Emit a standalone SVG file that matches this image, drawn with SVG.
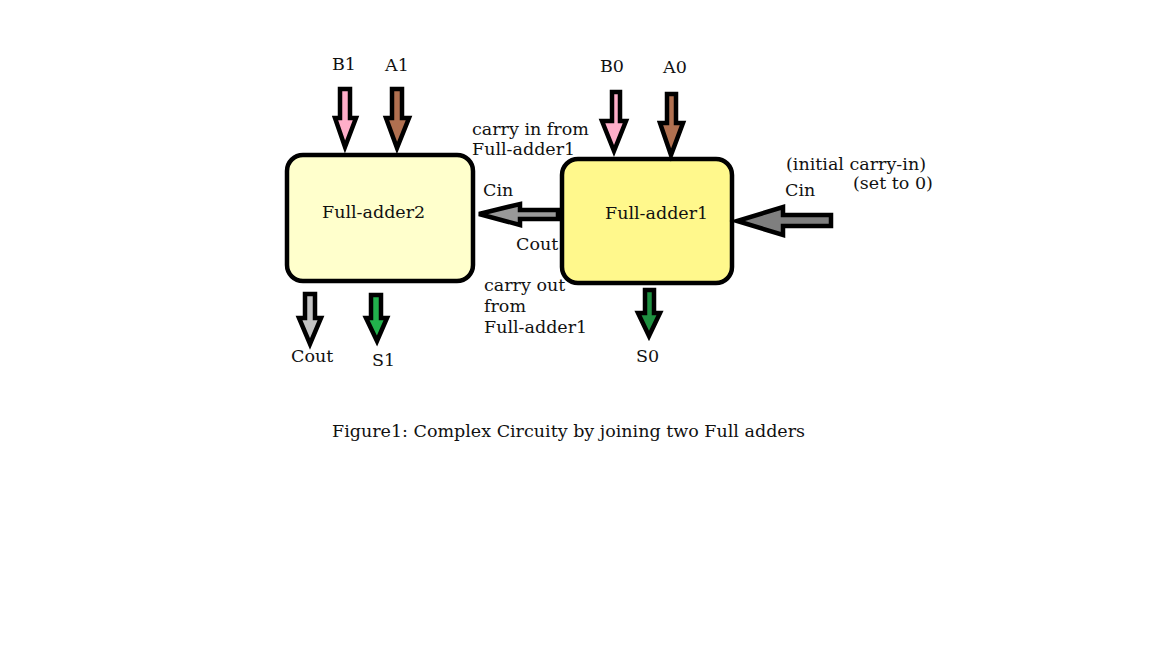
<svg xmlns="http://www.w3.org/2000/svg" width="1152" height="648" viewBox="0 0 1152 648">
<style>
text{font-family:"DejaVu Serif","Liberation Serif",serif;font-size:17.5px;fill:#111}
.box{stroke:#000;stroke-width:4.5}
.arr{stroke:#000;stroke-width:4.5;stroke-linejoin:miter}
</style>
<rect width="1152" height="648" fill="#fff"/>
<g id="full-adder2">
<rect class="box" x="287" y="155" width="186" height="126" rx="16" fill="#ffffcc"/>
<text x="322" y="218">Full-adder2</text>
</g>
<g id="full-adder1">
<rect class="box" x="562" y="159" width="170" height="124" rx="16" fill="#fff88c"/>
<text x="605" y="219">Full-adder1</text>
</g>
<g id="connectors">
<polygon class="arr" fill="#ffaec9" points="340,89 350,89 350,118 356,118 345,147 335,118 340,118"/>
<polygon class="arr" fill="#b07050" points="392,89 402,89 402,118 409,118 397,148 386,118 392,118"/>
<polygon class="arr" fill="#ffaec9" points="612,92 620,92 620,121 626,121 614,151 602,121 612,121"/>
<polygon class="arr" fill="#b07050" points="667,94 676,94 676,123 683,123 671,155 660,123 667,123"/>
<polygon class="arr" fill="#c3c3c3" points="305,294 315,294 315,318 321,318 310,344 299,318 305,318"/>
<polygon class="arr" fill="#22b14c" points="371,295 381,295 381,318 387,318 377,341 366,318 371,318"/>
<polygon class="arr" fill="#1e9040" points="645,290 654,290 654,313 660,313 649,336 638,313 645,313"/>
<polygon class="arr" fill="#7f7f7f" points="831,215 831,226 783,226 783,235 737,221 783,207 783,215"/>
<polygon class="arr" fill="#999" points="558,210 558,219 520,219 520,225 479,214 520,204 520,210"/>
</g>
<g id="labels">
<text x="332" y="70">B1</text>
<text x="385" y="71">A1</text>
<text x="600" y="72">B0</text>
<text x="663" y="73">A0</text>
<text x="472" y="135">carry in from</text>
<text x="472" y="155">Full-adder1</text>
<text x="483" y="196">Cin</text>
<text x="516" y="250">Cout</text>
<text x="484" y="291">carry out</text>
<text x="484" y="312">from</text>
<text x="484" y="333">Full-adder1</text>
<text x="291" y="362">Cout</text>
<text x="372" y="366">S1</text>
<text x="636" y="362">S0</text>
<text x="786" y="170">(initial carry-in)</text>
<text x="853" y="189">(set to 0)</text>
<text x="785" y="196">Cin</text>
<text x="332" y="437">Figure1: Complex Circuity by joining two Full adders</text>
</g>
</svg>
